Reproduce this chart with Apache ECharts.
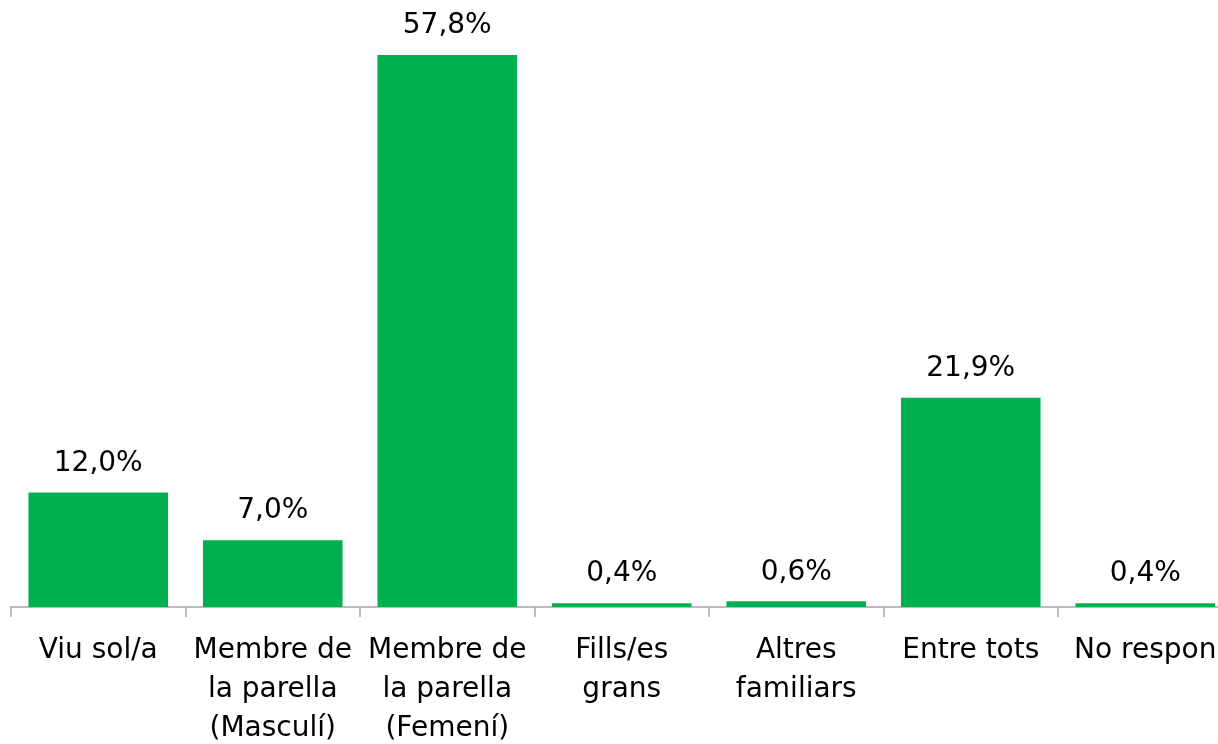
<!DOCTYPE html>
<html>
<head>
<meta charset="utf-8">
<script src="https://cdn.jsdelivr.net/npm/echarts@6/dist/echarts.min.js"></script>
<style>
  html, body { margin: 0; padding: 0; background: #fff; }
  #chart { width: 1218px; height: 744px; }
</style>
</head>
<body>
<div id="chart"></div>
<script>
// categories (the last label is cut in the original picture)
var categories = [
  'Viu sol/a',
  'Membre de\nla parella\n(Masculí)',
  'Membre de\nla parella\n(Femení)',
  'Fills/es\ngrans',
  'Altres\nfamiliars',
  'Entre tots',
  'No respon'
];
// percentages
var values = [12.0, 7.0, 57.8, 0.4, 0.6, 21.9, 0.4];

var chart = echarts.init(document.getElementById('chart'));

var option = {
  animation: false,
  textStyle: { fontFamily: 'DejaVu Sans' },
  grid: {
    left: 11, right: -14.5, top: 34, bottom: 137,
    containLabel: false,
    outerBoundsMode: 'none'
  },
  xAxis: {
    type: 'category',
    data: categories,
    axisLine: { show: true, lineStyle: { color: '#a6a6a6', width: 1.5 } },
    axisTick: { show: true, alignWithLabel: false, length: 10, lineStyle: { color: '#a6a6a6', width: 1.5 } },
    axisLabel: {
      interval: 0,
      color: '#000',
      fontSize: 28,
      lineHeight: 39,
      margin: 24,
      fontFamily: 'DejaVu Sans'
    }
  },
  yAxis: {
    type: 'value',
    min: 0,
    max: 60,
    show: false,
    splitLine: { show: false }
  },
  series: [{
    type: 'bar',
    data: values,
    barCategoryGap: '20%',
    itemStyle: { color: '#00B050' },
    label: {
      show: true,
      position: 'top',
      distance: 15,
      color: '#000',
      fontSize: 28,
      fontFamily: 'DejaVu Sans',
      formatter: function (p) {
        return p.value.toFixed(1).replace('.', ',') + '%';
      }
    }
  }]
};

chart.setOption(option);
</script>
</body>
</html>
